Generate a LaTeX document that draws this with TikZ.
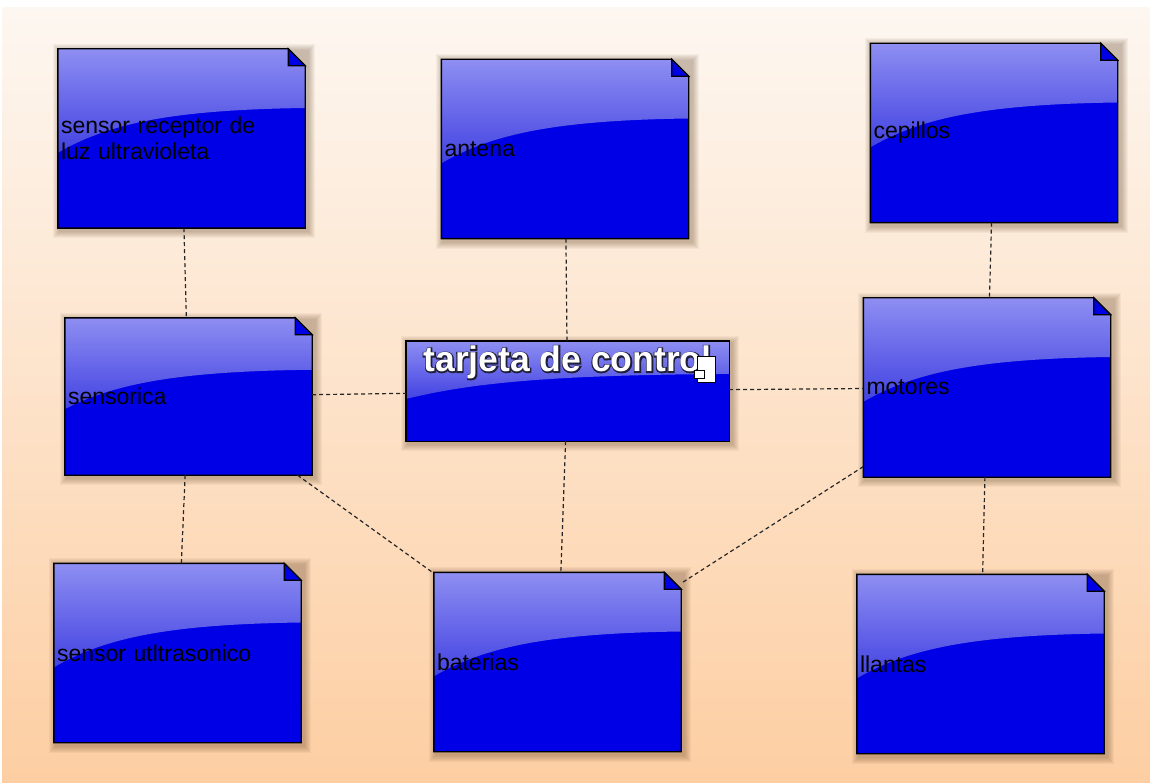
\documentclass[tikz,border=0pt]{standalone}
\usepackage{fontspec}
\setmainfont{Liberation Sans}
\usetikzlibrary{calc}
\definecolor{nodeblue}{RGB}{0,0,230}
\definecolor{glosstop}{RGB}{142,142,242}
\definecolor{glossbot}{RGB}{66,66,226}
\definecolor{bgtop}{RGB}{253,247,241}
\definecolor{bgbot}{RGB}{253,206,162}
\definecolor{shadowbrown}{RGB}{90,60,30}
\pgfdeclarelayer{background}
\pgfsetlayers{background,main}

% glossy box behind a node, #2 = size of the folded corner
\newcommand{\glossbox}[2]{%
  \foreach \r in {1,...,7}
    \fill[shadowbrown, opacity=0.05] ([shift={(-\r+2,-\r+2)}]#1.north west)
      rectangle ([shift={(\r+3,\r+3)}]#1.south east);
  \fill[nodeblue]
    (#1.south west) -- (#1.north west) -- ([xshift=-#2pt]#1.north east)
    -- ([yshift=-#2pt]#1.north east) -- (#1.south east) -- cycle;
  \begin{scope}
    \clip (#1.south west) -- (#1.north west) -- ([xshift=-#2pt]#1.north east)
      -- ([yshift=-#2pt]#1.north east) -- (#1.south east) -- cycle;
    \path (#1.north west) coordinate (gnw) (#1.south east) coordinate (gse);
    \shade[top color=glosstop, bottom color=glossbot]
      let \p1=(gnw), \p2=(gse) in
      (\p1) -- (\x2,\y1) -- (\x2,{\y1+0.33*(\y2-\y1)})
      .. controls ({\x1+0.45*(\x2-\x1)},{\y1+0.34*(\y2-\y1)})
      and ({\x1+0.2*(\x2-\x1)},{\y1+0.42*(\y2-\y1)}) ..
      (\x1,{\y1+0.58*(\y2-\y1)}) -- cycle;
  \end{scope}
  \draw[line width=1.4pt]
    (#1.south west) -- (#1.north west) -- ([xshift=-#2pt]#1.north east)
    -- ([yshift=-#2pt]#1.north east) -- (#1.south east) -- cycle;
  \ifnum#2>0
    \draw[line width=1.2pt, fill=nodeblue]
      ([xshift=-#2pt]#1.north east) -- ([xshift=-#2pt, yshift=-#2pt]#1.north east)
      -- ([yshift=-#2pt]#1.north east) -- cycle;
  \fi
}
% white title with a dark outline
\newcommand{\outlined}[1]{%
  \rlap{\special{pdf:literal direct 1 Tr 2.4 w 0.12 0.12 0.22 RG}#1%
    \special{pdf:literal direct 0 Tr}}#1}

\begin{document}
\begin{tikzpicture}[
    x=1pt, y=-1pt,
    box/.style={minimum width=247pt, minimum height=179pt, text width=241pt,
                inner xsep=3pt, inner ysep=0pt, align=left,
                font=\fontsize{23}{26}\selectfont},
    link/.style={line width=1.2pt, black!85, dash pattern=on 4pt off 3pt}
  ]
  \useasboundingbox (0,0) rectangle (1150,783);

  \node[box] (receptor) at (181.5,138.5) {sensor receptor de\\luz ultravioleta};
  \node[box] (antena) at (565,149) {antena};
  \node[box] (cepillos) at (994,133) {cepillos};
  \node[box, minimum height=157pt] (sensorica) at (188.5,396.5) {sensorica};
  \node[box, minimum width=323pt, minimum height=100pt, text width=317pt]
    (tarjeta) at (567.5,391) {};
  \node[box] (motores) at (987,387.5) {motores};
  \node[box] (ultra) at (177.5,653) {sensor utltrasonico};
  \node[box] (baterias) at (557.5,662) {baterias};
  \node[box] (llantas) at (980.5,664) {llantas};

  \begin{pgfonlayer}{background}
    \fill[white] (0,0) rectangle (1150,783);
    \shade[top color=bgtop, bottom color=bgbot] (2,8) rectangle (1150,783);
    \foreach \b in {receptor, antena, cepillos, sensorica, motores,
                    ultra, baterias, llantas}
      {\glossbox{\b}{17}}
    \glossbox{tarjeta}{0}
  \end{pgfonlayer}

  \node[anchor=base, text=white, font=\fontsize{35.5}{38}\bfseries]
    (titulo) at ([yshift=-31pt]tarjeta.north) {\outlined{tarjeta de control}};
  % small icon on the control card
  \draw[fill=white, line width=1pt] ([shift={(-32,16)}]tarjeta.north east)
    rectangle ([shift={(-14,42)}]tarjeta.north east);
  \draw[fill=white, line width=1pt] ([shift={(-35,30)}]tarjeta.north east)
    rectangle ([shift={(-25,38)}]tarjeta.north east);

  \draw[link] (receptor) -- (sensorica);
  \draw[link] (antena) -- (tarjeta);
  \draw[link] (cepillos) -- (motores);
  \draw[link] (sensorica) -- (tarjeta);
  \draw[link] (tarjeta) -- (motores);
  \draw[link] (sensorica) -- (ultra);
  \draw[link] (sensorica) -- (baterias);
  \draw[link] (tarjeta) -- (baterias);
  \draw[link] (motores) -- (baterias);
  \draw[link] (motores) -- (llantas);
\end{tikzpicture}
\end{document}
